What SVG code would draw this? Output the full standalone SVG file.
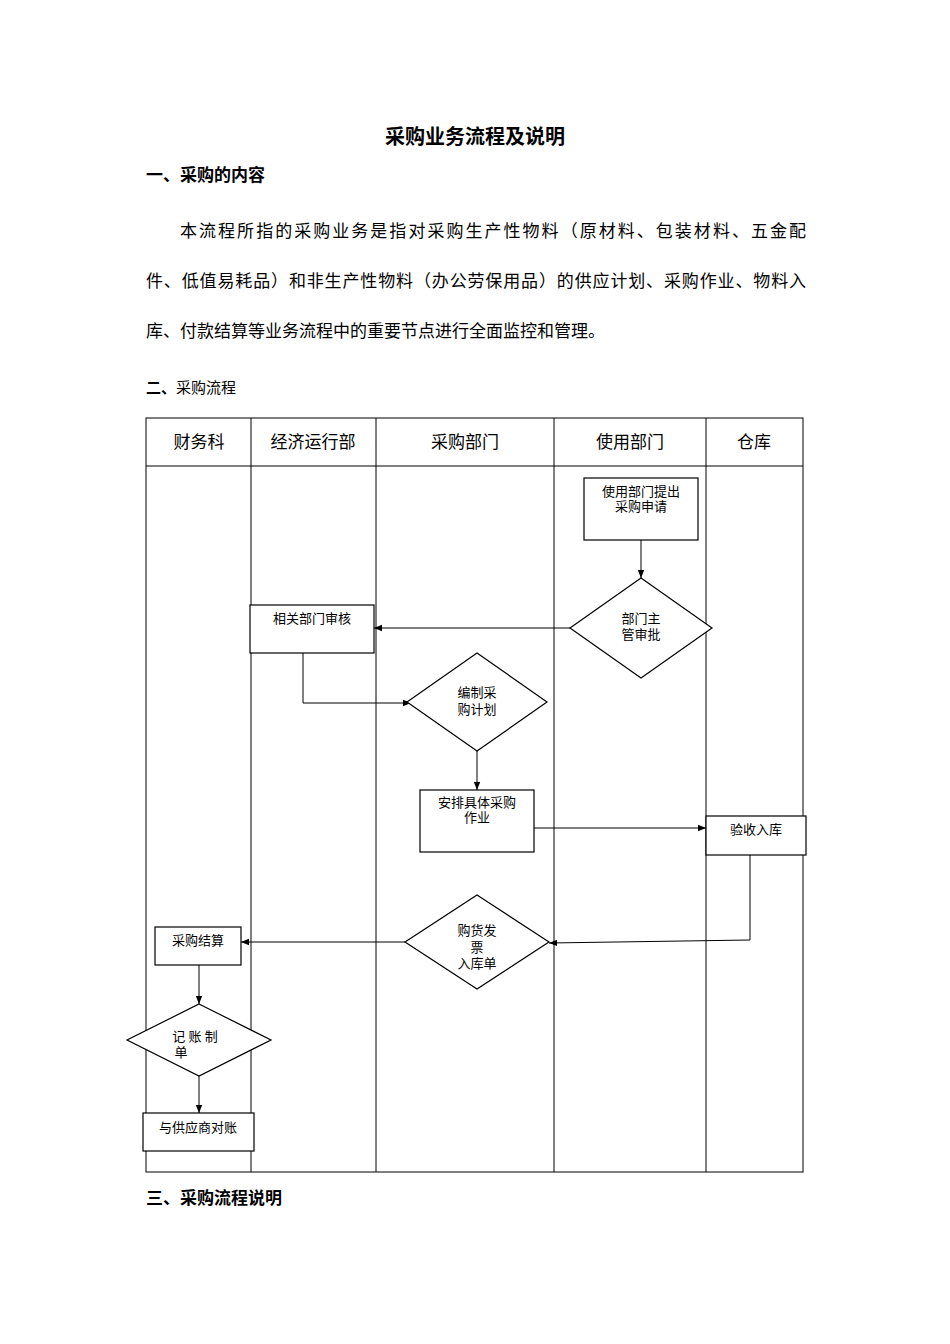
<svg xmlns="http://www.w3.org/2000/svg" width="950" height="1344" viewBox="0 0 950 1344">
<style>
text{font-family:"Liberation Serif","Noto Sans CJK SC",serif;fill:#000}
.h{font-weight:bold;font-size:17px}
.p{font-size:17px}
.c{font-size:17px;text-anchor:middle}
.n{font-size:13px;text-anchor:middle}
.s{fill:#fff;stroke:#000;stroke-width:1.2}
.l{fill:none;stroke:#000;stroke-width:1}
</style>
<defs><marker id="a" viewBox="0 0 10 10" refX="10" refY="5" markerWidth="8" markerHeight="8" orient="auto"><path d="M0,1 L10,5 L0,9 z" fill="#000"/></marker></defs>
<rect width="950" height="1344" fill="#fff"/>
<text x="475" y="144" font-size="20" font-weight="bold" text-anchor="middle">采购业务流程及说明</text>
<text class="h" x="146" y="181">一、采购的内容</text>
<text class="p" x="180" y="237" textLength="626" lengthAdjust="spacing">本流程所指的采购业务是指对采购生产性物料（原材料、包装材料、五金配</text>
<text class="p" x="146" y="287" textLength="660" lengthAdjust="spacing">件、低值易耗品）和非生产性物料（办公劳保用品）的供应计划、采购作业、物料入</text>
<text class="p" x="146" y="337">库、付款结算等业务流程中的重要节点进行全面监控和管理。</text>
<text x="146" y="393" font-size="15"><tspan font-weight="bold">二、</tspan>采购流程</text>
<g id="lanes" class="l">
<rect x="146" y="418" width="657" height="754"/>
<line x1="146" y1="466" x2="803" y2="466"/>
<line x1="251" y1="418" x2="251" y2="1172"/>
<line x1="376" y1="418" x2="376" y2="1172"/>
<line x1="554" y1="418" x2="554" y2="1172"/>
<line x1="706" y1="418" x2="706" y2="1172"/>
</g>
<text class="c" x="199" y="448">财务科</text>
<text class="c" x="313" y="448">经济运行部</text>
<text class="c" x="465" y="448">采购部门</text>
<text class="c" x="630" y="448">使用部门</text>
<text class="c" x="754" y="448">仓库</text>
<g id="connectors" class="l">
<line x1="641" y1="540" x2="641" y2="578" marker-end="url(#a)"/>
<line x1="570" y1="628" x2="374" y2="628" marker-end="url(#a)"/>
<polyline points="303,653 303,703 411,703" marker-end="url(#a)"/>
<line x1="477" y1="751" x2="477" y2="790" marker-end="url(#a)"/>
<line x1="534" y1="828" x2="706" y2="828" marker-end="url(#a)"/>
<polyline points="750,855 750,940 549,943" marker-end="url(#a)"/>
<line x1="405" y1="942" x2="241" y2="942" marker-end="url(#a)"/>
<line x1="199" y1="965" x2="199" y2="1004" marker-end="url(#a)"/>
<line x1="199" y1="1076" x2="199" y2="1113" marker-end="url(#a)"/>
</g>
<g id="n1"><rect class="s" x="584" y="478" width="114" height="62"/><text class="n" x="641" y="496">使用部门提出</text><text class="n" x="641" y="511">采购申请</text></g>
<g id="n2"><polygon class="s" points="641,578 712,628 641,678 570,628"/><text class="n" x="641" y="623">部门主</text><text class="n" x="641" y="639">管审批</text></g>
<g id="n3"><rect class="s" x="250" y="605" width="124" height="48"/><text class="n" x="312" y="623">相关部门审核</text></g>
<g id="n4"><polygon class="s" points="477,653 547,702 477,751 407,702"/><text class="n" x="477" y="697">编制采</text><text class="n" x="477" y="714">购计划</text></g>
<g id="n5"><rect class="s" x="420" y="790" width="114" height="62"/><text class="n" x="477" y="807">安排具体采购</text><text class="n" x="477" y="822">作业</text></g>
<g id="n6"><rect class="s" x="706" y="816" width="100" height="39"/><text class="n" x="756" y="834">验收入库</text></g>
<g id="n7"><polygon class="s" points="477,895 549,942 477,989 405,942"/><text class="n" x="477" y="935">购货发</text><text class="n" x="477" y="952">票</text><text class="n" x="477" y="968">入库单</text></g>
<g id="n8"><rect class="s" x="155" y="927" width="86" height="38"/><text class="n" x="198" y="945">采购结算</text></g>
<g id="n9"><polygon class="s" points="199,1004 271,1040 199,1076 127,1040"/><text class="n" x="195" y="1041">记 账 制</text><text class="n" x="181" y="1057">单</text></g>
<g id="n10"><rect class="s" x="143" y="1113" width="111" height="38"/><text class="n" x="198" y="1132">与供应商对账</text></g>
<text class="h" x="146" y="1204">三、采购流程说明</text>
</svg>
